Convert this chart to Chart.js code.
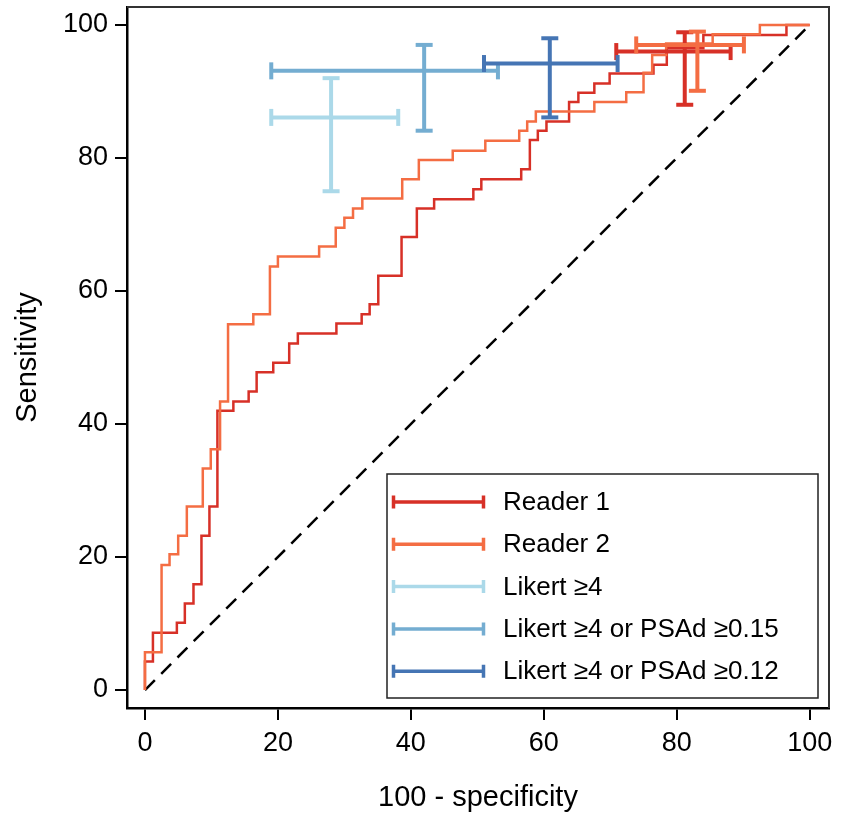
<!DOCTYPE html>
<html>
<head>
<meta charset="utf-8">
<script src="https://cdn.jsdelivr.net/npm/chart.js@4.4.0/dist/chart.umd.min.js"></script>
<style>
  html, body { margin: 0; padding: 0; background: #fff; }
  #wrap { width: 842px; height: 818px; }
</style>
</head>
<body>
<div id="wrap"><canvas id="roc"></canvas></div>
<script>
// ROC curves: x = 100 - specificity, y = sensitivity (corner points of the staircase)
const reader1X = [0, 0, 1.2, 4.8, 6.0, 7.3, 8.5, 9.7, 10.9, 13.3, 15.6, 16.8, 19.3, 21.7, 23.0, 28.8, 32.6, 33.8, 35.1, 38.6, 40.9, 43.5, 49.4, 50.6, 56.6, 57.9, 59.1, 60.4, 63.8, 65.2, 67.6, 69.9, 76.5, 78.5, 84.0, 96.5, 100];
const reader1Y = [0, 4.3, 8.6, 10.1, 13.0, 15.9, 23.2, 27.6, 42.0, 43.4, 44.9, 47.8, 49.2, 52.1, 53.6, 55.1, 56.5, 58.0, 62.3, 68.1, 72.4, 73.8, 75.3, 76.8, 78.3, 82.7, 84.1, 85.5, 88.4, 89.8, 91.2, 92.7, 94.0, 96.5, 98.5, 100, 100];

const reader2X = [0, 0, 2.5, 3.7, 5.0, 6.3, 8.7, 9.9, 11.3, 12.5, 16.3, 18.8, 20.0, 26.2, 28.7, 30.0, 31.3, 32.7, 38.7, 41.2, 46.3, 51.2, 56.3, 57.5, 58.8, 67.6, 72.4, 75.0, 76.3, 78.4, 85.4, 92.5, 100];
const reader2Y = [0, 5.7, 18.8, 20.4, 23.2, 27.6, 33.3, 36.2, 43.4, 55.0, 56.5, 63.7, 65.2, 66.7, 69.5, 71.0, 72.4, 73.9, 76.8, 79.7, 81.1, 82.6, 84.1, 85.5, 87.0, 88.4, 89.9, 92.8, 95.5, 97.2, 98.6, 100, 100];

// point estimates with 95% CI
const ciLabels = ['Reader 1', 'Reader 2', 'Likert ≥4', 'Likert ≥4 or PSAd ≥0.15', 'Likert ≥4 or PSAd ≥0.12'];
const ciX     = [81.2, 83.1, 28.0, 42.0, 60.9];
const ciXLow  = [70.9, 73.9, 19.0, 19.0, 51.0];
const ciXHigh = [88.1, 90.1, 38.1, 53.1, 71.1];
const ciY     = [96.0, 97.0, 86.1, 93.1, 94.2];
const ciYLow  = [88.0, 90.1, 75.0, 84.1, 86.1];
const ciYHigh = [98.9, 99.0, 92.0, 97.0, 98.0];

const axisTicks = [0, 20, 40, 60, 80, 100];

const ciColors = ['#d73027', '#f46d43', '#abd9e9', '#74add1', '#4575b4'];
const FONT = "'Liberation Sans', Arial, Helvetica, sans-serif";

Chart.defaults.font.family = FONT;
Chart.defaults.color = '#000';

const toPts = (xs, ys) => xs.map((x, i) => ({ x: x, y: ys[i] }));

const datasets = [];

// chance line
datasets.push({
  data: [{ x: 0, y: 0 }, { x: 100, y: 100 }],
  borderColor: '#000',
  borderWidth: 2.5,
  borderDash: [14, 9],
  pointRadius: 0,
  order: 20
});

// ROC curves
datasets.push({
  data: toPts(reader1X, reader1Y),
  borderColor: ciColors[0],
  borderWidth: 2.5,
  stepped: 'before',
  pointRadius: 0,
  order: 11
});
datasets.push({
  data: toPts(reader2X, reader2Y),
  borderColor: ciColors[1],
  borderWidth: 2.5,
  stepped: 'before',
  pointRadius: 0,
  order: 10
});

// error bars, caps drawn as rotated 'line' points
ciLabels.forEach((lab, i) => {
  datasets.push({
    data: [{ x: ciXLow[i], y: ciY[i] }, { x: ciXHigh[i], y: ciY[i] }],
    borderColor: ciColors[i],
    borderWidth: 4,
    pointStyle: 'line',
    rotation: 90,
    pointRadius: 8.5,
    pointBorderWidth: 4,
    pointBorderColor: ciColors[i],
    order: 9 - i * 2
  });
  datasets.push({
    data: [{ x: ciX[i], y: ciYLow[i] }, { x: ciX[i], y: ciYHigh[i] }],
    borderColor: ciColors[i],
    borderWidth: 4,
    pointStyle: 'line',
    rotation: 0,
    pointRadius: 8.5,
    pointBorderWidth: 4,
    pointBorderColor: ciColors[i],
    order: 8 - i * 2
  });
});

// top + right frame lines
const frame = {
  id: 'frame',
  afterDatasetsDraw(chart) {
    const { ctx, chartArea: a } = chart;
    ctx.save();
    ctx.strokeStyle = '#333';
    ctx.lineWidth = 2;
    ctx.beginPath();
    ctx.moveTo(a.left, a.top);
    ctx.lineTo(a.right, a.top);
    ctx.lineTo(a.right, a.bottom);
    ctx.stroke();
    ctx.restore();
  }
};

// legend box inside the plot, bottom right
const ciLegend = {
  id: 'ciLegend',
  afterDraw(chart) {
    const { ctx, chartArea: a } = chart;
    const w = 431, h = 224;
    const x0 = a.right - 11 - w;
    const y0 = a.bottom - 10 - h;
    ctx.save();
    ctx.fillStyle = '#fff';
    ctx.fillRect(x0, y0, w, h);
    ctx.strokeStyle = '#222';
    ctx.lineWidth = 1.5;
    ctx.strokeRect(x0, y0, w, h);
    ctx.font = '26px ' + FONT;
    ctx.textBaseline = 'middle';
    ctx.textAlign = 'left';
    ciLabels.forEach((lab, i) => {
      const cy = y0 + 28 + i * 42.3;
      ctx.strokeStyle = ciColors[i];
      ctx.lineWidth = 3.5;
      ctx.beginPath();
      ctx.moveTo(x0 + 5, cy);
      ctx.lineTo(x0 + 98, cy);
      ctx.moveTo(x0 + 6.5, cy - 6.5);
      ctx.lineTo(x0 + 6.5, cy + 6.5);
      ctx.moveTo(x0 + 96.5, cy - 6.5);
      ctx.lineTo(x0 + 96.5, cy + 6.5);
      ctx.stroke();
      ctx.fillStyle = '#000';
      ctx.fillText(lab, x0 + 116, cy + 1);
    });
    ctx.restore();
  }
};

const axisCommon = (title, pad) => ({
  type: 'linear',
  bounds: 'data',
  afterBuildTicks: s => { s.ticks = axisTicks.map(v => ({ value: v })); },
  grid: { display: true, drawOnChartArea: false, drawTicks: true, tickLength: 12, color: '#000', lineWidth: 2 },
  border: { display: true, color: '#000', width: 2.5 },
  ticks: { font: { size: 27 }, color: '#000', padding: 7, maxRotation: 0, autoSkip: false },
  title: { display: true, text: title, font: { size: 29 }, color: '#000', padding: pad }
});

const xAxis = axisCommon('100 - specificity', { top: 0, bottom: 3 });
xAxis.min = -2.7; xAxis.max = 102.9;
xAxis.afterFit = s => { s.height = 110; s.paddingLeft = 0; s.paddingRight = 0; };

const yAxis = axisCommon('Sensitivity', { top: 11, bottom: 0 });
yAxis.min = -2.7; yAxis.max = 102.7;
yAxis.afterFit = s => { s.width = 127; s.paddingTop = 0; s.paddingBottom = 0; };

new Chart(document.getElementById('roc'), {
  type: 'line',
  data: { datasets: datasets },
  options: {
    responsive: true,
    maintainAspectRatio: false,
    animation: false,
    events: [],
    layout: { autoPadding: false, padding: { top: 7, right: 13, left: 0, bottom: 0 } },
    scales: { x: xAxis, y: yAxis },
    plugins: { legend: { display: false }, tooltip: { enabled: false } }
  },
  plugins: [frame, ciLegend]
});
</script>
</body>
</html>
